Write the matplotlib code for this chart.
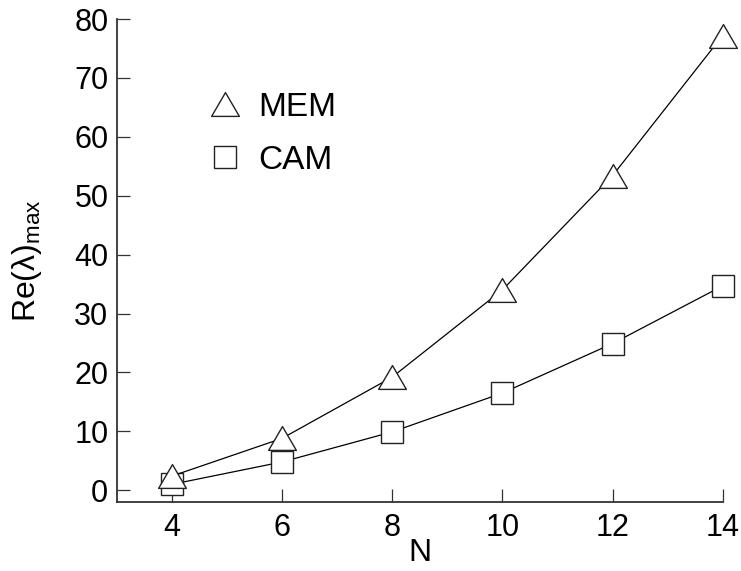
import matplotlib.pyplot as plt
from matplotlib.path import Path
from matplotlib.lines import Line2D

plt.rcParams['font.family'] = ['Liberation Sans', 'DejaVu Sans']
plt.rcParams['mathtext.fontset'] = 'custom'
plt.rcParams['mathtext.rm'] = 'Liberation Sans'
plt.rcParams['mathtext.it'] = 'Liberation Sans:italic'

# system size and largest real part of the eigenvalues
n_vals = [4, 6, 8, 10, 12, 14]
mem = [2.4, 8.8, 19.2, 34.0, 53.4, 77.2]
cam = [1.0, 4.8, 9.9, 16.5, 24.9, 34.7]

x_ticks = [4, 6, 8, 10, 12, 14]
y_ticks = [0, 10, 20, 30, 40, 50, 60, 70, 80]

# slightly flattened triangle
tri = Path([(-1, -0.857), (1, -0.857), (0, 0.857), (-1, -0.857)],
           [Path.MOVETO, Path.LINETO, Path.LINETO, Path.CLOSEPOLY])

fig = plt.figure(figsize=(7.41, 5.71), dpi=100)
ax = fig.add_axes([0.1575, 0.1208, 0.8178, 0.8459])

mstyle = dict(mfc='white', mec='#222222', mew=1.0)
ax.plot(n_vals, cam, color='black', lw=0.9, marker='s', ms=16.5,
        clip_on=False, **mstyle)
ax.plot(n_vals, mem, color='black', lw=0.9, marker=tri, ms=20,
        clip_on=False, **mstyle)

ax.set_xlim(3, 14)
ax.set_ylim(-2, 80)
ax.set_xticks(x_ticks)
ax.set_yticks(y_ticks)

for side in ['top', 'right']:
    ax.spines[side].set_visible(False)
for side in ['left', 'bottom']:
    ax.spines[side].set_linewidth(1.3)
    ax.spines[side].set_color('#333333')

ax.tick_params(direction='in', length=9.4, width=0.9, color='#333333',
               labelsize=22, pad=6)
ax.tick_params(axis='x', pad=8)

ax.set_xlabel('N', fontsize=23, labelpad=-4)
ax.set_ylabel(r'Re(λ)$_{\mathrm{max}}$', fontsize=23, labelpad=22)

handles = [Line2D([], [], ls='none', marker=tri, ms=20, **mstyle),
           Line2D([], [], ls='none', marker='s', ms=16.5, **mstyle)]
ax.legend(handles, ['MEM', 'CAM'], loc='center left',
          bbox_to_anchor=(0.151, 0.762), frameon=False, fontsize=24,
          numpoints=1, handlelength=1.0, handletextpad=0.49,
          labelspacing=0.66, borderpad=0, borderaxespad=0)

fig.savefig('out.png', dpi=100)
